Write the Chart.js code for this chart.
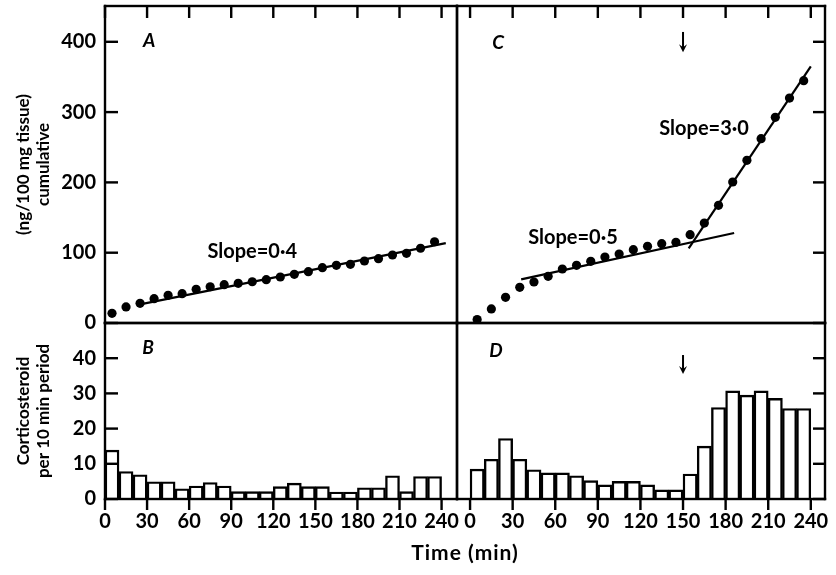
<!DOCTYPE html>
<html><head><meta charset="utf-8">
<script src="https://cdn.jsdelivr.net/npm/chart.js@4/dist/chart.umd.min.js"></script>
<style>
html,body{margin:0;padding:0;background:#fff;}
#wrap{position:relative;width:836px;height:575px;background:#fff;overflow:hidden;}
#wrap canvas{position:absolute;left:0;top:0;}
</style></head><body>
<div id="wrap">
<canvas id="cA" width="836" height="575"></canvas>
<canvas id="cC" width="836" height="575"></canvas>
<canvas id="cB" width="836" height="575"></canvas>
<canvas id="cD" width="836" height="575"></canvas>
</div>
<script>
// ---- data ----
const timeMid = [5,15,25,35,45,55,65,75,85,95,105,115,125,135,145,155,165,175,185,195,205,215,225,235];
const cumulativeA = [13.8,22.8,28,34.6,39.4,41.7,47.9,51.6,54.5,56.4,58.7,61.6,65.4,69.2,73,78.7,82,83.5,88.2,91.5,96.7,99.1,106.3,115.6];
const cumulativeC = [5,20,36.5,50.7,58.3,66.4,76.8,82,87.7,93.9,98.1,104.3,109.1,112.8,114.8,125.6,142.2,167.4,200.6,231.4,262.2,292.6,320,344.7];
const perPeriodB = [13.9,7.8,6.9,4.9,4.9,2.9,3.7,4.7,3.7,2.1,2.1,2.1,3.5,4.5,3.5,3.5,2.0,2.0,3.2,3.2,6.6,2.1,6.4,6.4];
const perPeriodD = [8.5,11.3,17.2,11.3,8.3,7.4,7.4,6.6,5.2,4.0,5.0,5.0,4.0,2.6,2.6,7.1,15.0,26.0,30.7,29.5,30.7,28.6,25.7,25.7];
const fitA  = [[25,26.5],[243,113.7]];
const fitC1 = [[36,62],[186,128]];
const fitC2 = [[154,106],[240,365]];
const timeTicks = [0,30,60,90,120,150,180,210,240];
const cumTicks = [0,100,200,300,400];
const periodTicks = [0,10,20,30,40];
const stimulusTime = 150;

// ---- layout / style ----
const FIG = {left:105, mid:457, right:825, top:6, split:323, bottom:499, width:836, height:575};
const FAM = 'Lato, "Open Sans", sans-serif';
const tickFont = {family:FAM, size:20, weight:'bold'};
const titleFont = {family:FAM, size:17, weight:'bold', lineHeight:1.15};
const TICK_COLOR = '#000';

const pts = (xs, ys) => xs.map((x,i)=>({x:x, y:ys[i]}));
const pairs = p => p.map(q=>({x:q[0], y:q[1]}));

const frameCfg = {
  cA: {ticks:[{axis:'x',values:timeTicks,side:'top',len:12},{axis:'y',values:cumTicks,side:'left',len:13}],
       texts:[{t:'A',x:31.5,y:401,italic:true},{t:'Slope=0·4',x:105,y:101,size:20}]},
  cC: {ticks:[{axis:'x',values:timeTicks,side:'top',len:12},{axis:'y',values:cumTicks,side:'right',len:12}],
       texts:[{t:'C',x:19.7,y:398,italic:true},{t:'Slope=0·5',x:72.5,y:122,size:20},{t:'Slope=3·0',x:164.8,y:277,size:20}],
       arrows:[{x:stimulusTime,y1:414,y2:385}]},
  cB: {ticks:[{axis:'x',values:timeTicks,side:'bottom',len:11},{axis:'y',values:periodTicks,side:'left',len:13}],
       texts:[{t:'B',x:30.8,y:42.9,italic:true}], xTitle:'Time (min)'},
  cD: {ticks:[{axis:'x',values:timeTicks,side:'bottom',len:11},{axis:'y',values:periodTicks,side:'right',len:12}],
       texts:[{t:'D',x:18.3,y:42,italic:true}],
       arrows:[{x:stimulusTime,y1:40.9,y2:35.5}]}
};

const framePlugin = {
  id:'frame',
  afterDraw(chart){
    const o = frameCfg[chart.canvas.id]; if(!o) return;
    const ctx = chart.ctx, a = chart.chartArea, sx = chart.scales.x, sy = chart.scales.y;
    const L = Math.round(a.left), R = Math.round(a.right), T = Math.round(a.top), B = Math.round(a.bottom);
    ctx.save();
    ctx.fillStyle='#000';
    const w = 2.4;
    ctx.fillRect(L-w/2, T-w/2, R-L+w, w);
    ctx.fillRect(L-w/2, B-w/2, R-L+w, w);
    ctx.fillRect(L-w/2, T-w/2, w, B-T+w);
    ctx.fillRect(R-w/2, T-w/2, w, B-T+w);
    const tw = 2.4;
    ctx.fillStyle = TICK_COLOR;
    for (const tk of (o.ticks||[])) {
      const sc = chart.scales[tk.axis];
      for (const v of tk.values) {
        const p = sc.getPixelForValue(v);
        if(tk.side==='top') ctx.fillRect(p-tw/2, T, tw, tk.len);
        else if(tk.side==='bottom') ctx.fillRect(p-tw/2, B, tw, tk.len);
        else if(tk.side==='left') ctx.fillRect(L, p-tw/2, tk.len, tw);
        else ctx.fillRect(R-tk.len, p-tw/2, tk.len, tw);
      }
    }
    ctx.fillStyle='#000';
    (o.texts||[]).forEach(tx=>{
      ctx.font = (tx.italic?'italic ':'') + 'bold ' + (tx.size||19) + 'px ' + FAM;
      ctx.textAlign='center'; ctx.textBaseline='middle';
      ctx.fillText(tx.t, sx.getPixelForValue(tx.x), sy.getPixelForValue(tx.y));
    });
    (o.arrows||[]).forEach(r=>{
      const x = sx.getPixelForValue(r.x), y1 = sy.getPixelForValue(r.y1), y2 = sy.getPixelForValue(r.y2);
      ctx.fillRect(x-1, y1, 2, y2-y1-3);
      ctx.beginPath(); ctx.moveTo(x-4,y2-8); ctx.lineTo(x,y2); ctx.lineTo(x+4,y2-8); ctx.lineTo(x,y2-5); ctx.closePath(); ctx.fill();
    });
    if(o.xTitle){
      ctx.font = 'bold 21px ' + FAM;
      if ('letterSpacing' in ctx) ctx.letterSpacing = '1px';
      ctx.textAlign='center'; ctx.textBaseline='middle';
      ctx.fillText(o.xTitle, (a.left + FIG.right)/2, FIG.bottom + 54);
    }
    ctx.restore();
  }
};
Chart.register(framePlugin);

function zeroPad(s){ s.paddingTop = 0; s.paddingBottom = 0; s.paddingLeft = 0; s.paddingRight = 0; }
function xScale(min, max, pos, labels){
  return {type:'linear', position:pos, min:min, max:max, offset:false,
    afterBuildTicks: s=>{ s.ticks = timeTicks.map(v=>({value:v})); },
    afterFit: s=>{ s.height = labels ? FIG.height-FIG.bottom : 0; zeroPad(s); },
    ticks:{display:labels, font:tickFont, color:'#000', padding:11, autoSkip:false, maxRotation:0, minRotation:0},
    grid:{display:false, drawTicks:false, offset:false}, border:{display:false}};
}
function yScale(max, tickVals, pos, title){
  const s = {type:'linear', position:pos, min:0, max:max,
    afterBuildTicks: sc=>{ sc.ticks = tickVals.map(v=>({value:v})); },
    afterFit: sc=>{ sc.width = pos==='left' ? FIG.left : 0; zeroPad(sc); },
    ticks:{display:pos==='left', font:tickFont, color:'#000', padding:9},
    grid:{display:false, drawTicks:false}, border:{display:false}};
  if(title) s.title = {display:true, text:title, font:titleFont, color:'#000', padding:{top:14,bottom:0}};
  return s;
}
function base(padding, scales){
  return {responsive:false, animation:false, devicePixelRatio:1,
    layout:{padding:padding},
    plugins:{legend:{display:false}, tooltip:{enabled:false}, title:{display:false}},
    scales:scales};
}
const dot = {type:'scatter', pointRadius:4.6, pointBackgroundColor:'#000', pointBorderColor:'#000', pointBorderWidth:0, showLine:false};
const fitLine = {type:'line', borderColor:'#000', borderWidth:2.2, pointRadius:0, fill:false, tension:0};
const barStyle = {type:'bar', backgroundColor:'#fff', borderColor:'#000', borderWidth:2.4, barPercentage:1, categoryPercentage:1, borderSkipped:'start'};

const topMax = (FIG.split-FIG.top)/0.703;
const botMax = 50;
const rxMin = -9.2, rxMax = 250;

new Chart(document.getElementById('cA'), {type:'scatter',
  data:{datasets:[Object.assign({data:pts(timeMid,cumulativeA)},dot), Object.assign({data:pairs(fitA)},fitLine)]},
  options: base({left:0, top:FIG.top, right:FIG.width-FIG.mid, bottom:FIG.height-FIG.split},
    {x:xScale(0,251,'top',false), y:yScale(topMax,cumTicks,'left',['(ng/100 mg tissue)','cumulative'])})});

new Chart(document.getElementById('cC'), {type:'scatter',
  data:{datasets:[Object.assign({data:pts(timeMid,cumulativeC)},dot), Object.assign({data:pairs(fitC1)},fitLine), Object.assign({data:pairs(fitC2)},fitLine)]},
  options: base({left:FIG.mid, top:FIG.top, right:FIG.width-FIG.right, bottom:FIG.height-FIG.split},
    {x:xScale(rxMin,rxMax,'top',false), y:yScale(topMax,cumTicks,'right',null)})});

new Chart(document.getElementById('cB'), {type:'bar',
  data:{datasets:[Object.assign({data:pts(timeMid,perPeriodB)},barStyle)]},
  options: base({left:0, top:FIG.split, right:FIG.width-FIG.mid, bottom:0},
    {x:xScale(0,251,'bottom',true), y:yScale(botMax,periodTicks,'left',['Corticosteroid','per 10 min period'])})});

new Chart(document.getElementById('cD'), {type:'bar',
  data:{datasets:[Object.assign({data:pts(timeMid,perPeriodD)},barStyle)]},
  options: base({left:FIG.mid, top:FIG.split, right:FIG.width-FIG.right, bottom:0},
    {x:xScale(rxMin,rxMax,'bottom',true), y:yScale(botMax,periodTicks,'right',null)})});
</script>
</body></html>
